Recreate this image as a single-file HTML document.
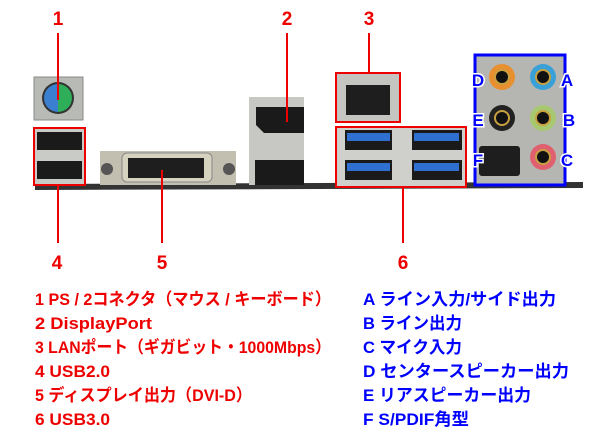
<!DOCTYPE html>
<html><head><meta charset="utf-8"><style>
body{margin:0;background:#fff}
svg{display:block}
text{font-family:"Liberation Sans","Noto Sans CJK JP",sans-serif;font-weight:bold}
</style></head><body>
<svg width="600" height="438" viewBox="0 0 600 438">
<polygon points="35,184 583,182 583,188 35,190" fill="#333"/>
<rect x="34" y="77" width="49" height="43" fill="#b8bab5" stroke="#888"/>
<circle cx="58" cy="98" r="16" fill="#333"/>
<path d="M58,84 A14,14 0 0 0 58,112 Z" fill="#3b7fd0"/>
<path d="M58,84 A14,14 0 0 1 58,112 Z" fill="#2fae5a"/>
<rect x="34" y="128" width="51" height="57" fill="#c9cbc6"/>
<rect x="37" y="132" width="45" height="18" fill="#1a1a1a"/>
<rect x="37" y="161" width="45" height="18" fill="#1a1a1a"/>
<rect x="34" y="128" width="51" height="57" fill="none" stroke="#e00" stroke-width="2"/>
<rect x="100" y="151" width="136" height="34" fill="#c2bfb0"/>
<rect x="122" y="153" width="90" height="29" rx="5" fill="#d6d2c0" stroke="#888"/>
<rect x="128" y="158" width="76" height="20" fill="#1e1e1e"/>
<circle cx="107" cy="169" r="6" fill="#555"/>
<circle cx="229" cy="169" r="6" fill="#555"/>
<rect x="249" y="97" width="55" height="88" fill="#c7c8c3"/>
<path d="M256,107 h48 v26 h-40 l-8,-8 z" fill="#1a1a1a"/>
<rect x="255" y="160" width="49" height="25" fill="#1a1a1a"/>
<rect x="336" y="73" width="64" height="49" fill="#c4c5c1"/>
<rect x="346" y="85" width="44" height="30" fill="#1e1e1e"/>
<rect x="336" y="73" width="64" height="49" fill="none" stroke="#e00" stroke-width="2"/>
<rect x="336" y="127" width="130" height="60" fill="#cfd0cc"/>
<rect x="345" y="130" width="47" height="20" fill="#1a1a1a"/><rect x="347" y="133" width="43" height="8" fill="#2f6fd0"/>
<rect x="345" y="160" width="47" height="20" fill="#1a1a1a"/><rect x="347" y="163" width="43" height="8" fill="#2f6fd0"/>
<rect x="412" y="130" width="50" height="20" fill="#1a1a1a"/><rect x="414" y="133" width="45" height="8" fill="#2f6fd0"/>
<rect x="412" y="160" width="50" height="20" fill="#1a1a1a"/><rect x="414" y="163" width="45" height="8" fill="#2f6fd0"/>
<rect x="336" y="127" width="130" height="60" fill="none" stroke="#e00" stroke-width="2"/>
<rect x="476" y="56" width="88" height="128" fill="#b5b6b2"/>
<circle cx="502" cy="77" r="13" fill="#e89030"/><circle cx="502" cy="77" r="7" fill="#111" stroke="#c9a040" stroke-width="2"/>
<circle cx="543" cy="77" r="13" fill="#3aa0d8"/><circle cx="543" cy="77" r="7" fill="#111" stroke="#c9a040" stroke-width="2"/>
<circle cx="502" cy="118" r="13" fill="#222"/><circle cx="502" cy="118" r="7" fill="#111" stroke="#c9a040" stroke-width="2"/>
<circle cx="543" cy="118" r="13" fill="#a8c870"/><circle cx="543" cy="118" r="7" fill="#111" stroke="#c9a040" stroke-width="2"/>
<circle cx="543" cy="157" r="13" fill="#e06070"/><circle cx="543" cy="157" r="7" fill="#111" stroke="#c9a040" stroke-width="2"/>
<rect x="479" y="146" width="41" height="30" rx="3" fill="#1e1e1e"/>
<rect x="475" y="55" width="90" height="130" fill="none" stroke="#00f" stroke-width="3"/>
<g fill="#00f" font-size="17" text-anchor="middle" stroke="#fff" stroke-width="3" paint-order="stroke">
<text x="478" y="86">D</text><text x="567" y="86">A</text>
<text x="478" y="126">E</text><text x="569" y="126">B</text>
<text x="478" y="166">F</text><text x="567" y="166">C</text>
</g>
<g stroke="#e00" stroke-width="2">
<line x1="58" y1="33" x2="58" y2="100"/>
<line x1="58" y1="186" x2="58" y2="243"/>
<line x1="162" y1="170" x2="162" y2="243"/>
<line x1="287" y1="33" x2="287" y2="122"/>
<line x1="369" y1="33" x2="369" y2="73"/>
<line x1="403" y1="187" x2="403" y2="243"/>
</g>
<g fill="#e00" font-size="19" text-anchor="middle">
<text x="58" y="25">1</text><text x="287" y="25">2</text><text x="369" y="25">3</text>
<text x="57" y="269">4</text><text x="162" y="269">5</text><text x="403" y="269">6</text>
</g>
<g fill="#e00" font-size="17">
<text x="35" y="305" textLength="296" lengthAdjust="spacingAndGlyphs">1 PS / 2コネクタ（マウス / キーボード）</text>
<text x="35" y="329" textLength="117" lengthAdjust="spacingAndGlyphs">2 DisplayPort</text>
<text x="35" y="353" textLength="296" lengthAdjust="spacingAndGlyphs">3 LANポート（ギガビット・1000Mbps）</text>
<text x="35" y="377" textLength="75" lengthAdjust="spacingAndGlyphs">4 USB2.0</text>
<text x="35" y="401" textLength="217" lengthAdjust="spacingAndGlyphs">5 ディスプレイ出力（DVI-D）</text>
<text x="35" y="425" textLength="75" lengthAdjust="spacingAndGlyphs">6 USB3.0</text>
</g>
<g fill="#00f" font-size="17">
<text x="363" y="305" textLength="193" lengthAdjust="spacingAndGlyphs">A ライン入力/サイド出力</text>
<text x="363" y="329" textLength="99" lengthAdjust="spacingAndGlyphs">B ライン出力</text>
<text x="363" y="353" textLength="99" lengthAdjust="spacingAndGlyphs">C マイク入力</text>
<text x="363" y="377" textLength="206" lengthAdjust="spacingAndGlyphs">D センタースピーカー出力</text>
<text x="363" y="401" textLength="168" lengthAdjust="spacingAndGlyphs">E リアスピーカー出力</text>
<text x="363" y="425" textLength="106" lengthAdjust="spacingAndGlyphs">F S/PDIF角型</text>
</g>
</svg>
</body></html>
